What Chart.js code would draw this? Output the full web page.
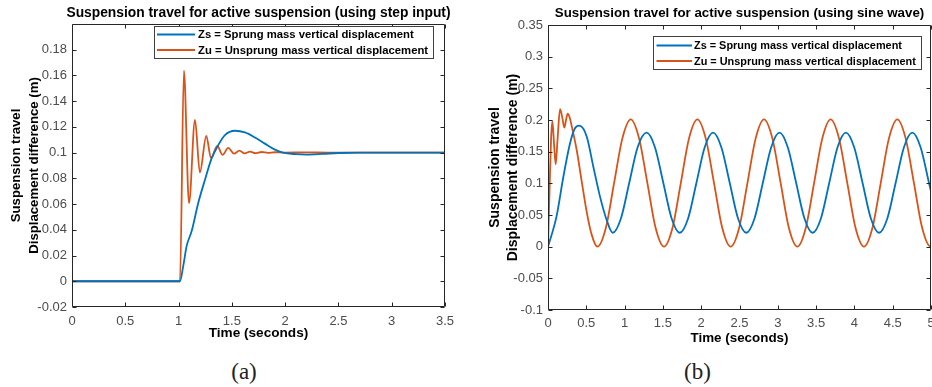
<!DOCTYPE html>
<html><head><meta charset="utf-8">
<script src="https://cdn.jsdelivr.net/npm/chart.js@4.4.0/dist/chart.umd.min.js"></script>
<style>
html,body{margin:0;padding:0;background:#fff;width:932px;height:387px;overflow:hidden;}
.wrap{position:absolute;top:0;height:350px;}
.cap{position:absolute;font-family:"Liberation Serif","DejaVu Serif",serif;font-size:23px;color:#222;transform:translateX(-50%);line-height:1;}
</style></head><body>
<div class="wrap" style="left:0;width:470px"><canvas id="ca"></canvas></div>
<div class="wrap" style="left:470px;width:462px"><canvas id="cb"></canvas></div>
<div class="cap" id="capA" style="left:244px;top:360px"></div>
<div class="cap" id="capB" style="left:697.5px;top:360px"></div>
<script>
// ---- labels ----
const seriesNames = ['Zs = Sprung mass vertical displacement', 'Zu = Unsprung mass vertical displacement'];
const titleA = 'Suspension travel for active suspension (using step input)';
const titleB = 'Suspension travel for active suspension (using sine wave)';
const xTitle = 'Time (seconds)';
const yTitle = ['Suspension travel', 'Displacement difference (m)'];
const captions = ['(a)', '(b)'];

// ---- (a) step input ----
const stepZsTime  = [0, 1.0, 1.013, 1.044, 1.076, 1.123, 1.185, 1.248, 1.31, 1.372, 1.435, 1.529, 1.623, 1.717, 1.81, 1.9, 1.98, 2.1, 2.2, 2.35, 2.5, 2.7, 3.0, 3.5];
const stepZsValue = [0, 0, 0, 0.012, 0.0275, 0.039, 0.061, 0.079, 0.0955, 0.1058, 0.1136, 0.117, 0.1157, 0.1118, 0.107, 0.1025, 0.1, 0.0988, 0.0985, 0.099, 0.0997, 0.1, 0.1, 0.1];
const stepZuTime  = [0, 1.013, 1.05, 1.098, 1.154, 1.2, 1.26, 1.304, 1.363, 1.413, 1.466, 1.52, 1.57, 1.62, 1.67, 1.72, 1.78, 1.84, 1.9, 2.0, 2.2, 2.4, 3.5];
const stepZuValue = [0, 0, 0.1637, 0.0607, 0.1255, 0.0846, 0.1131, 0.0957, 0.1053, 0.0983, 0.1037, 0.0992, 0.1015, 0.0994, 0.1008, 0.0996, 0.1005, 0.0998, 0.1003, 0.1, 0.1002, 0.1, 0.1];

// ---- (b) sine wave ----
const sineZsTime  = [0, 0.11, 0.2, 0.287, 0.352, 0.409, 0.505, 0.592, 0.679, 0.766, 0.845, 0.953, 1.061, 1.17, 1.288, 1.396, 1.505, 1.613, 1.72, 1.83, 1.938, 2.046, 2.155, 2.263, 2.372, 2.48, 2.589, 2.697, 2.805, 2.914, 3.022, 3.13, 3.239, 3.347, 3.455, 3.564, 3.672, 3.78, 3.889, 3.997, 4.106, 4.214, 4.322, 4.431, 4.539, 4.647, 4.756, 4.864, 4.973, 5.0];
const sineZsValue = [0, 0.047, 0.11, 0.163, 0.187, 0.191, 0.174, 0.126, 0.079, 0.042, 0.022, 0.045, 0.101, 0.157, 0.18, 0.157, 0.101, 0.045, 0.022, 0.045, 0.101, 0.157, 0.18, 0.157, 0.101, 0.045, 0.022, 0.045, 0.101, 0.157, 0.18, 0.157, 0.101, 0.045, 0.022, 0.045, 0.101, 0.157, 0.18, 0.157, 0.101, 0.045, 0.022, 0.045, 0.101, 0.157, 0.18, 0.157, 0.101, 0.087];
const sineZuTime  = [0, 0.02, 0.04, 0.057, 0.08, 0.1, 0.125, 0.157, 0.185, 0.213, 0.235, 0.257, 0.285, 0.31, 0.374, 0.44, 0.505, 0.57, 0.645, 0.754, 0.862, 0.971, 1.08, 1.189, 1.298, 1.406, 1.515, 1.624, 1.733, 1.841, 1.95, 2.059, 2.168, 2.276, 2.385, 2.494, 2.603, 2.711, 2.82, 2.929, 3.038, 3.146, 3.255, 3.364, 3.473, 3.581, 3.69, 3.799, 3.908, 4.016, 4.125, 4.234, 4.343, 4.451, 4.56, 4.669, 4.778, 4.886, 4.995, 5.0];
const sineZuValue = [0, 0.09, 0.17, 0.198, 0.16, 0.13, 0.17, 0.217, 0.205, 0.188, 0.2, 0.21, 0.203, 0.19, 0.153, 0.103, 0.055, 0.019, 0, 0.029, 0.1, 0.171, 0.201, 0.171, 0.1, 0.029, 0, 0.029, 0.1, 0.171, 0.201, 0.171, 0.1, 0.029, 0, 0.029, 0.1, 0.171, 0.201, 0.171, 0.1, 0.029, 0, 0.029, 0.1, 0.171, 0.201, 0.171, 0.1, 0.029, 0, 0.029, 0.1, 0.171, 0.201, 0.171, 0.1, 0.029, 0, 0.0005];

// ---- axis ticks ----
const xTicksA = [0, 0.5, 1, 1.5, 2, 2.5, 3, 3.5];
const yTicksA = [-0.02, 0, 0.02, 0.04, 0.06, 0.08, 0.1, 0.12, 0.14, 0.16, 0.18];
const xTicksB = [0, 0.5, 1, 1.5, 2, 2.5, 3, 3.5, 4, 4.5, 5];
const yTicksB = [-0.1, -0.05, 0, 0.05, 0.1, 0.15, 0.2, 0.25, 0.3, 0.35];

const BLUE = '#0072BD', ORANGE = '#D95319';
const FONT = "'Liberation Sans', Arial, Helvetica, sans-serif";

document.getElementById('capA').textContent = captions[0];
document.getElementById('capB').textContent = captions[1];

function pts(t, v) { return t.map((x, i) => ({x, y: v[i]})); }
function fmt(v) { return String(Math.round(v * 1000) / 1000); }

const framePlugin = {
  id: 'frame',
  afterDatasetsDraw(chart, args, o) {
    const {ctx, chartArea: {left, right, top, bottom}, scales: {x, y}} = chart;
    ctx.save();
    // title (drawn without width squeezing)
    ctx.fillStyle = '#000';
    ctx.font = 'bold ' + o.titleSize + 'px ' + FONT;
    ctx.textAlign = 'center';
    ctx.textBaseline = 'middle';
    ctx.fillText(o.title, (left + right) / 2, o.titleY);
    // axes box and inward ticks
    ctx.strokeStyle = '#262626';
    ctx.lineWidth = 1;
    ctx.beginPath();
    const L = Math.round(left) + 0.5, R = Math.round(right) - 0.5, T = Math.round(top) + 0.5, B = Math.round(bottom) - 0.5;
    o.xt.forEach(v => { const p = Math.round(x.getPixelForValue(v)) + 0.5; ctx.moveTo(p, B); ctx.lineTo(p, B - 4); ctx.moveTo(p, T); ctx.lineTo(p, T + 4); });
    o.yt.forEach(v => { const p = Math.round(y.getPixelForValue(v)) + 0.5; ctx.moveTo(L, p); ctx.lineTo(L + 4, p); ctx.moveTo(R, p); ctx.lineTo(R - 4, p); });
    ctx.rect(L, T, R - L, B - T);
    ctx.stroke();
    // legend
    const g = o.legend;
    ctx.fillStyle = '#fff';
    ctx.fillRect(g.x, g.y, g.w, g.h);
    ctx.strokeStyle = '#404040';
    ctx.strokeRect(g.x + 0.5, g.y + 0.5, g.w, g.h);
    ctx.font = 'bold ' + g.fs + 'px ' + FONT;
    ctx.textBaseline = 'middle';
    ctx.textAlign = 'left';
    chart.data.datasets.forEach((ds, i) => {
      const ry = g.rows[i];
      ctx.strokeStyle = ds.borderColor;
      ctx.lineWidth = 1.8;
      ctx.beginPath(); ctx.moveTo(g.l0, ry); ctx.lineTo(g.l1, ry); ctx.stroke();
      ctx.fillStyle = '#000';
      ctx.fillText(ds.label, g.tx, ry + 0.5);
    });
    ctx.restore();
  }
};

function makeChart(id, cfg) {
  return new Chart(document.getElementById(id), {
    type: 'line',
    data: {
      datasets: [
        {label: seriesNames[0], data: cfg.zs, borderColor: BLUE, borderWidth: 1.8, pointRadius: 0, fill: false, cubicInterpolationMode: 'monotone'},
        {label: seriesNames[1], data: cfg.zu, borderColor: ORANGE, borderWidth: 1.8, pointRadius: 0, fill: false, cubicInterpolationMode: 'monotone'}
      ]
    },
    plugins: [framePlugin],
    options: {
      responsive: true,
      maintainAspectRatio: false,
      animation: false,
      events: [],
      layout: {padding: {left: 0, top: cfg.padT, right: cfg.padR, bottom: 0}},
      plugins: {
        legend: {display: false},
        tooltip: {enabled: false},
        title: {display: false},
        frame: {xt: cfg.xt, yt: cfg.yt, legend: cfg.legend, title: cfg.title, titleSize: cfg.titleSize, titleY: cfg.titleY}
      },
      scales: {
        x: {
          type: 'linear', min: cfg.xt[0], max: cfg.xt[cfg.xt.length - 1],
          grid: {display: false, drawTicks: false},
          border: {display: false},
          afterBuildTicks: s => { s.ticks = cfg.xt.map(v => ({value: v})); },
          ticks: {callback: v => fmt(v), color: '#4d4d4d', font: {family: FONT, size: 13}, padding: cfg.xPad, maxRotation: 0, autoSkip: false},
          title: {display: true, text: xTitle, color: '#000', font: {family: FONT, size: cfg.xTitleSize, weight: 'bold', lineHeight: 1.2}, padding: {top: 0, bottom: cfg.xTitlePad}},
          afterFit: s => { s.height = cfg.xH; s.paddingLeft = 0; s.paddingRight = 0; }
        },
        y: {
          type: 'linear', min: cfg.yMin, max: cfg.yMax,
          grid: {display: false, drawTicks: false},
          border: {display: false},
          afterBuildTicks: s => { s.ticks = cfg.yt.map(v => ({value: v})); },
          ticks: {callback: v => fmt(v), color: '#4d4d4d', font: {family: FONT, size: 13}, padding: 5, autoSkip: false},
          title: {display: true, text: yTitle, color: '#000', font: {family: FONT, size: cfg.yTitleSize, weight: 'bold', lineHeight: cfg.yTitleLH}, padding: {top: cfg.yTitlePad, bottom: 0}},
          afterFit: s => { s.width = cfg.yW; s.paddingTop = 0; s.paddingBottom = 0; }
        }
      }
    }
  });
}

makeChart('ca', {
  title: titleA, titleSize: 13.8, titleY: 13, padT: 24,
  zs: pts(stepZsTime, stepZsValue), zu: pts(stepZuTime, stepZuValue),
  xt: xTicksA, yt: yTicksA, yMin: -0.02, yMax: 0.2,
  padR: 25, yW: 72, xH: 43, xPad: 7, xTitleSize: 13.6, xTitlePad: 8.4,
  yTitleSize: 13.2, yTitleLH: 1.36, yTitlePad: 7.7,
  legend: {x: 154, y: 26, w: 279, h: 32, rows: [34.5, 50], l0: 157, l1: 195, tx: 198, fs: 11.3}
});
makeChart('cb', {
  title: titleB, titleSize: 13.3, titleY: 13, padT: 25,
  zs: pts(sineZsTime, sineZsValue), zu: pts(sineZuTime, sineZuValue),
  xt: xTicksB, yt: yTicksB, yMin: -0.1, yMax: 0.35,
  padR: 1, yW: 78, xH: 40, xPad: 6, xTitleSize: 13.4, xTitlePad: 3.7,
  yTitleSize: 14, yTitleLH: 1.27, yTitlePad: 16.1,
  legend: {x: 183, y: 36, w: 268, h: 33, rows: [45.5, 61], l0: 186.5, l1: 222, tx: 224, fs: 10.9}
});
</script>
</body></html>
